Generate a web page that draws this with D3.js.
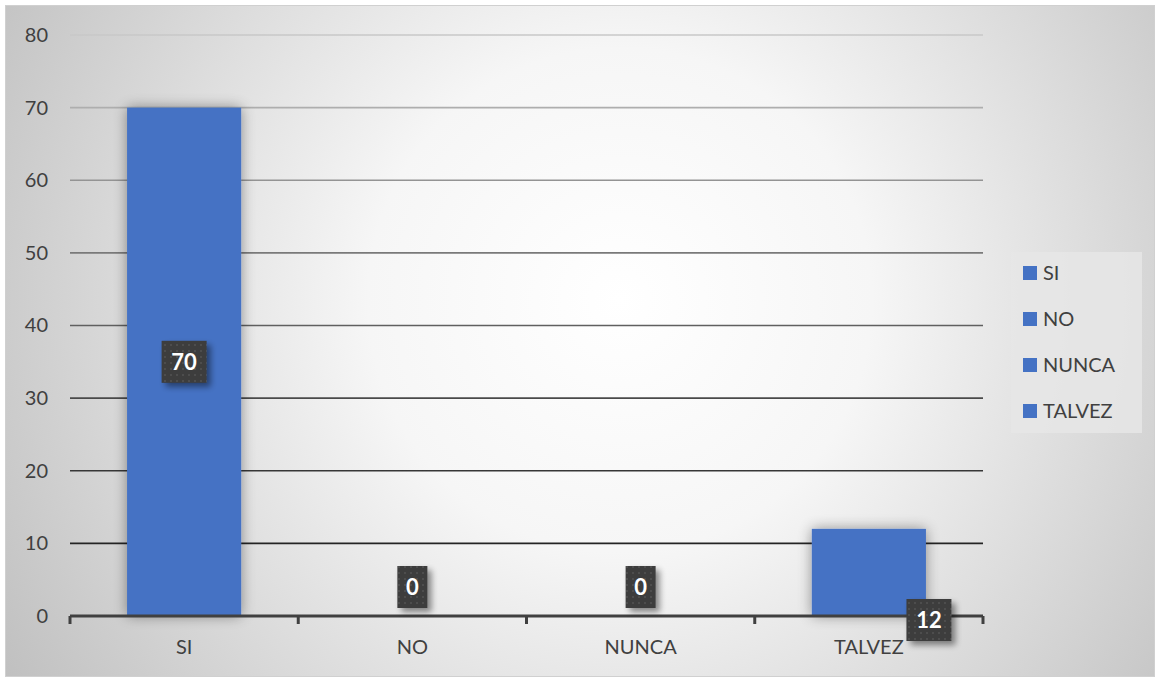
<!DOCTYPE html>
<html><head><meta charset="utf-8">
<script src="https://cdn.jsdelivr.net/npm/d3@7"></script>
<style>body{margin:0;background:#fff}svg{display:block}text{font-family:Lato,"Open Sans",sans-serif}</style>
</head><body>
<svg id="c" width="1159" height="680"></svg>
<script>
const categories = ["SI","NO","NUNCA","TALVEZ"];
const values = [70,0,0,12];
const yTicks = [0,10,20,30,40,50,60,70,80];
const legendLabels = ["SI","NO","NUNCA","TALVEZ"];

const svg = d3.select("#c");
const defs = svg.append("defs");
const rg = defs.append("radialGradient").attr("id","bg").attr("gradientUnits","userSpaceOnUse")
  .attr("cx",620).attr("cy",300).attr("r",720);
rg.append("stop").attr("offset","0").attr("stop-color","#ffffff");
rg.append("stop").attr("offset","0.35").attr("stop-color","#f6f6f6");
rg.append("stop").attr("offset","1").attr("stop-color","#c0c0c0");
const lg = defs.append("linearGradient").attr("id","grid").attr("gradientUnits","userSpaceOnUse")
  .attr("x1",0).attr("y1",35).attr("x2",0).attr("y2",616);
lg.append("stop").attr("offset","0").attr("stop-color","#c8c8c8");
lg.append("stop").attr("offset","0.55").attr("stop-color","#555");
lg.append("stop").attr("offset","1").attr("stop-color","#111");
const sh = defs.append("filter").attr("id","sh").attr("x","-30%").attr("y","-30%").attr("width","160%").attr("height","160%");
sh.append("feGaussianBlur").attr("in","SourceAlpha").attr("stdDeviation",7).attr("result","b");
sh.append("feOffset").attr("in","b").attr("dx",0).attr("dy",0).attr("result","o");
sh.append("feComponentTransfer").attr("in","o").attr("result","o2").append("feFuncA").attr("type","linear").attr("slope",0.4);
const m1 = sh.append("feMerge"); m1.append("feMergeNode").attr("in","o2"); m1.append("feMergeNode").attr("in","SourceGraphic");
const sh2 = defs.append("filter").attr("id","sh2").attr("x","-30%").attr("y","-30%").attr("width","170%").attr("height","170%");
sh2.append("feGaussianBlur").attr("in","SourceAlpha").attr("stdDeviation",3).attr("result","b");
sh2.append("feOffset").attr("in","b").attr("dx",4).attr("dy",4).attr("result","o");
sh2.append("feComponentTransfer").attr("in","o").attr("result","o2").append("feFuncA").attr("type","linear").attr("slope",0.45);
const m2 = sh2.append("feMerge"); m2.append("feMergeNode").attr("in","o2"); m2.append("feMergeNode").attr("in","SourceGraphic");
const pat = defs.append("pattern").attr("id","dots").attr("patternUnits","userSpaceOnUse").attr("width",6).attr("height",6);
pat.append("rect").attr("width",6).attr("height",6).attr("fill","#3c3c3c");
pat.append("rect").attr("x",2).attr("y",2).attr("width",2).attr("height",2).attr("fill","#4e4e4e");

svg.append("rect").attr("x",5.5).attr("y",5.5).attr("width",1149).attr("height",671)
  .attr("fill","url(#bg)").attr("stroke","#d0d0d0");

const x = d3.scaleBand().domain(categories).range([70,983]).paddingInner(0.5).paddingOuter(0.25);
const y = d3.scaleLinear().domain([0,80]).range([616,35]);

// gridlines
svg.append("g").selectAll("line").data(yTicks.filter(d=>d>0)).join("line")
  .attr("x1",70).attr("x2",983).attr("y1",d=>y(d)).attr("y2",d=>y(d))
  .attr("stroke","url(#grid)").attr("stroke-width",1.6);

// y axis labels
const ya = svg.append("g").attr("transform","translate(58,0)")
  .call(d3.axisLeft(y).tickValues(yTicks).tickSize(0).tickPadding(10));
ya.select(".domain").remove();
ya.selectAll("text").attr("font-size",20).attr("fill","#404040").attr("font-family","Lato,'Open Sans',sans-serif");

// bars
svg.append("g").selectAll("rect").data(categories.map((c,i)=>({c,v:values[i]})).filter(d=>d.v>0)).join("rect")
  .attr("x",d=>x(d.c)).attr("width",x.bandwidth()).attr("y",d=>y(d.v)).attr("height",d=>y(0)-y(d.v))
  .attr("fill","#4472c4").attr("filter","url(#sh)");

// x axis
const xa = svg.append("g").attr("transform","translate(0,616)");
const step = 913/categories.length;
xa.append("line").attr("x1",70).attr("x2",983).attr("y1",0).attr("y2",0).attr("stroke","#404040").attr("stroke-width",3);
xa.selectAll("line.t").data(d3.range(categories.length+1)).join("line").attr("class","t")
  .attr("x1",i=>70+i*step).attr("x2",i=>70+i*step).attr("y1",0).attr("y2",8)
  .attr("stroke","#404040").attr("stroke-width",3);
xa.selectAll("text").data(categories).join("text")
  .attr("x",d=>x(d)+x.bandwidth()/2).attr("y",38).attr("text-anchor","middle")
  .attr("font-size",20).attr("fill","#404040").text(d=>d);

// data labels
const lab = svg.append("g");
categories.forEach((c,i)=>{
  const v = values[i];
  let cx, cy;
  if (c==="TALVEZ") { cx = x(c)+x.bandwidth()+3; cy = 620; }
  else if (v===0) { cx = x(c)+x.bandwidth()/2; cy = 587; }
  else { cx = x(c)+x.bandwidth()/2; cy = y(v/2); }
  const t = String(v);
  const w = t.length>1 ? 45 : 30, h = 42;
  const g = lab.append("g");
  g.append("rect").attr("x",cx-w/2).attr("y",cy-h/2).attr("width",w).attr("height",h)
    .attr("fill","url(#dots)").attr("filter","url(#sh2)");
  g.append("text").attr("x",cx).attr("y",cy+8).attr("text-anchor","middle")
    .attr("font-size",22).attr("font-weight","bold").attr("fill","#fff").text(t);
});

// legend
const leg = svg.append("g");
leg.append("rect").attr("x",1011).attr("y",252).attr("width",131).attr("height",181).attr("fill","#e6e6e6").attr("opacity",0.85);
legendLabels.forEach((l,i)=>{
  const yy = 273 + i*46;
  leg.append("rect").attr("x",1023).attr("y",yy-7).attr("width",14).attr("height",14).attr("fill","#4472c4");
  leg.append("text").attr("x",1043).attr("y",yy+7).attr("font-size",20).attr("fill","#404040").text(l);
});
</script>
</body></html>
